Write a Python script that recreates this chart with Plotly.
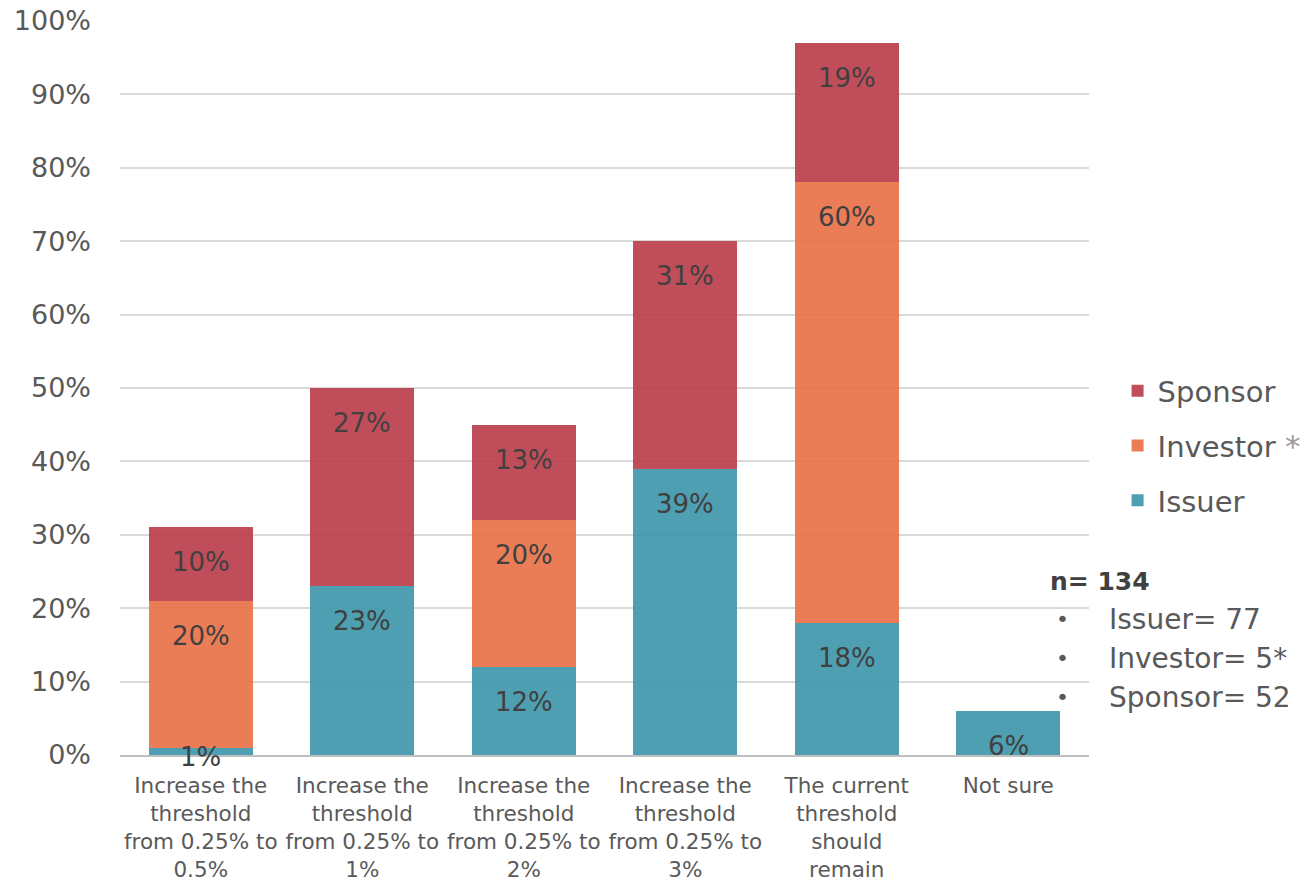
import plotly.graph_objects as go

categories = [
    "Increase the<br>threshold<br>from 0.25% to<br>0.5%",
    "Increase the<br>threshold<br>from 0.25% to<br>1%",
    "Increase the<br>threshold<br>from 0.25% to<br>2%",
    "Increase the<br>threshold<br>from 0.25% to<br>3%",
    "The current<br>threshold<br>should<br>remain",
    "Not sure",
]
issuer = [1, 23, 12, 39, 18, 6]
investor = [20, None, 20, None, 60, None]
sponsor = [10, 27, 13, 31, 19, None]

FONT = "DejaVu Sans"
LABEL_COLOR = "#404040"

series = [
    ("Issuer", issuer, "rgba(59,149,168,0.9)", 3),
    ("Investor <span style='color:#9a9a9a;font-size:31px'>*</span>", investor, "rgba(233,111,68,0.9)", 2),
    ("Sponsor", sponsor, "rgba(185,59,72,0.9)", 1),
]

fig = go.Figure()
for name, vals, color, rank in series:
    fig.add_trace(go.Bar(
        x=categories, y=vals, name=name,
        marker=dict(color=color, line=dict(width=0)),
        legendgroup=name, legendrank=rank,
        hoverinfo="x+y+name",
    ))

# data labels near the inside end of each segment
PX_PER_UNIT = 734 / 100.0
cum = [0] * len(categories)
for name, vals, color, rank in series:
    for i, v in enumerate(vals):
        if v is None:
            continue
        top = cum[i] + v
        cum[i] = top
        shift = -min(35, v * PX_PER_UNIT + 2)
        fig.add_annotation(x=categories[i], y=top, xref="x", yref="y",
                           text=f"{v}%", showarrow=False, yanchor="middle",
                           yshift=shift,
                           font=dict(family=FONT, size=26, color=LABEL_COLOR))

fig.update_layout(
    barmode="stack",
    bargap=0.356,
    width=1304, height=883,
    margin=dict(l=120, r=215, t=21, b=128, autoexpand=False),
    paper_bgcolor="white", plot_bgcolor="white",
    font=dict(family=FONT, color="#595959"),
    legend=dict(
        x=1.0295, y=0.421, xanchor="left", yanchor="middle",
        traceorder="grouped", tracegroupgap=14,
        font=dict(family=FONT, size=29, color="#595959"),
        itemwidth=30,
    ),
    yaxis=dict(
        range=[0, 100], dtick=10, ticksuffix="%",
        showgrid=True, gridcolor="#D9D9D9", gridwidth=1.5,
        zeroline=False, showline=False, automargin=False,
        tickfont=dict(family=FONT, size=27, color="#595959"),
        ticklabelstandoff=28,
    ),
    xaxis=dict(
        showline=True, linecolor="#BFBFBF", linewidth=2, automargin=False,
        tickfont=dict(family=FONT, size=21.5, color="#595959"),
        ticks="", ticklabelstandoff=10, tickangle=0,
    ),
)

fig.add_annotation(x=0.9577, y=0.236, xref="paper", yref="paper", xanchor="left", yanchor="middle",
                   text="<b>n= 134</b>", showarrow=False,
                   font=dict(family=FONT, size=25, color="#404040"))
ann_font = dict(family=FONT, size=28, color="#595959")
lines = ["Issuer= 77", "Investor= 5*", "Sponsor= 52"]
ys = [0.184, 0.132, 0.079]
for t, yy in zip(lines, ys):
    fig.add_annotation(x=0.9637, y=yy, xref="paper", yref="paper", xanchor="left", yanchor="middle",
                       text="•", showarrow=False, font=dict(family=FONT, size=22, color="#595959"))
    fig.add_annotation(x=1.019, y=yy, xref="paper", yref="paper", xanchor="left", yanchor="middle",
                       text=t, showarrow=False, font=ann_font)

fig.write_html("out.html")
